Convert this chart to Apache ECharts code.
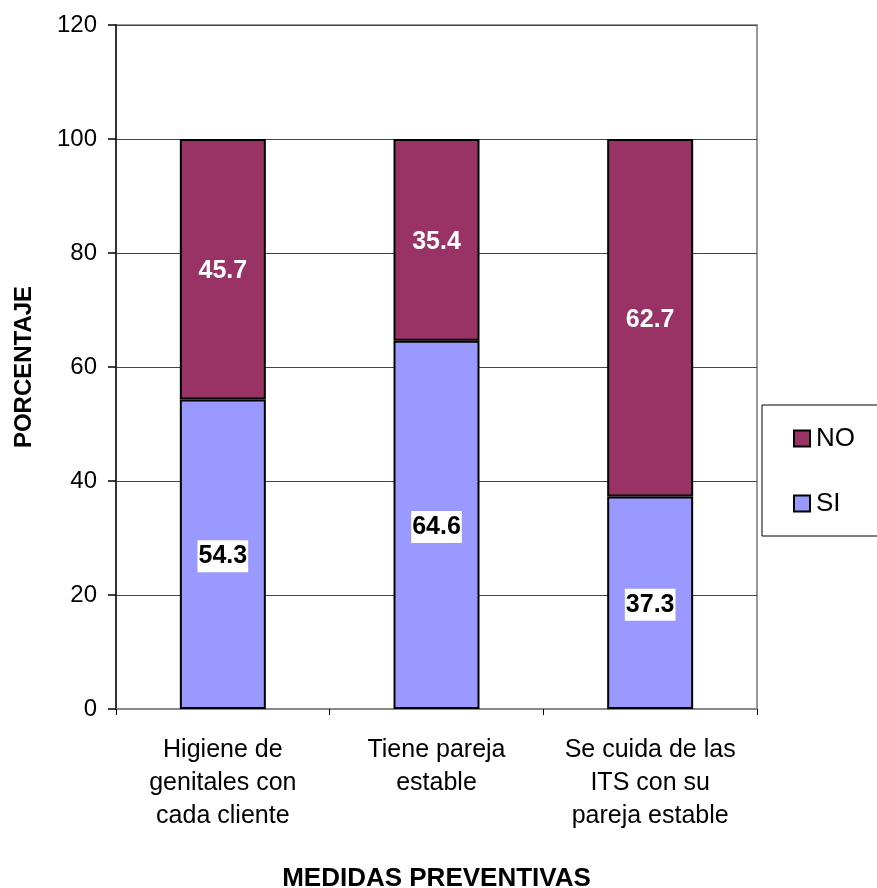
<!DOCTYPE html>
<html>
<head>
<meta charset="utf-8">
<script src="https://cdn.jsdelivr.net/npm/echarts@6/dist/echarts.min.js"></script>
<style>
  html, body { margin: 0; padding: 0; background: #fff; }
  #chart { width: 877px; height: 888px; }
</style>
</head>
<body>
<div id="chart"></div>
<script>
// Medidas preventivas: porcentaje SI / NO por categoría
const categories = [
  'Higiene de\ngenitales con\ncada cliente',
  'Tiene pareja\nestable',
  'Se cuida de las\nITS con su\npareja estable'
];
const siValues = [54.3, 64.6, 37.3];
const noValues = [45.7, 35.4, 62.7];
const yTicks = { min: 0, max: 120, interval: 20 };

const FONT = '"Liberation Sans", Arial, sans-serif';

const chart = echarts.init(document.getElementById('chart'), null, { renderer: 'canvas' });

chart.setOption({
  animation: false,
  backgroundColor: '#ffffff',
  textStyle: { fontFamily: FONT },
  grid: {
    left: 116, top: 25, right: 120, bottom: 179,
    outerBoundsMode: 'none',
    containLabel: false,
    show: true, borderColor: '#999999', borderWidth: 2, backgroundColor: 'transparent'
  },
  legend: {
    orient: 'vertical',
    left: 762, top: 405,
    data: ['NO', 'SI'],
    itemWidth: 16, itemHeight: 16,
    itemGap: 38,
    padding: [20, 60, 19, 31],
    borderColor: '#000', borderWidth: 1,
    icon: 'rect',
    itemStyle: { borderColor: '#000', borderWidth: 2 },
    textStyle: { fontFamily: FONT, fontSize: 26, color: '#000', lineHeight: 27, padding: [0, 0, 0, 1] }
  },
  xAxis: {
    type: 'category',
    data: categories,
    name: 'MEDIDAS PREVENTIVAS',
    nameLocation: 'middle',
    nameGap: 157,
    nameTextStyle: { fontFamily: FONT, fontSize: 26, fontWeight: 'bold', color: '#000' },
    axisLine: { show: true, lineStyle: { color: '#888', width: 2 } },
    axisTick: { show: true, length: 6, lineStyle: { color: '#000', width: 1 } },
    axisLabel: { fontFamily: FONT, fontSize: 25, color: '#000', lineHeight: 33, margin: 25, interval: 0 }
  },
  yAxis: {
    type: 'value',
    min: yTicks.min, max: yTicks.max, interval: yTicks.interval,
    name: 'PORCENTAJE',
    nameLocation: 'middle',
    nameGap: 80,
    nameTextStyle: { fontFamily: FONT, fontSize: 24, fontWeight: 'bold', color: '#000' },
    axisLine: { show: true, lineStyle: { color: '#333', width: 2 } },
    axisTick: { show: true, length: 8, lineStyle: { color: '#000', width: 1.5 } },
    axisLabel: { fontFamily: FONT, fontSize: 24, color: '#000', margin: 19 },
    splitLine: { show: true, lineStyle: { color: '#444', width: 1 } }
  },
  series: [
    {
      name: 'SI',
      type: 'bar',
      stack: 'total',
      barWidth: 86,
      data: siValues,
      itemStyle: { color: '#9999FF', borderColor: '#000', borderWidth: 2 },
      label: {
        show: true,
        position: 'inside',
        offset: [0, 2],
        formatter: p => p.value.toFixed(1),
        fontFamily: FONT, fontSize: 25, fontWeight: 'bold', color: '#000',
        backgroundColor: '#fff', padding: [4, 1, 3, 1]
      }
    },
    {
      name: 'NO',
      type: 'bar',
      stack: 'total',
      barWidth: 86,
      data: noValues,
      itemStyle: { color: '#993366', borderColor: '#000', borderWidth: 2 },
      label: {
        show: true,
        position: 'inside',
        offset: [0, 2],
        formatter: p => p.value.toFixed(1),
        fontFamily: FONT, fontSize: 25, fontWeight: 'bold', color: '#fff'
      }
    }
  ]
});
</script>
</body>
</html>
